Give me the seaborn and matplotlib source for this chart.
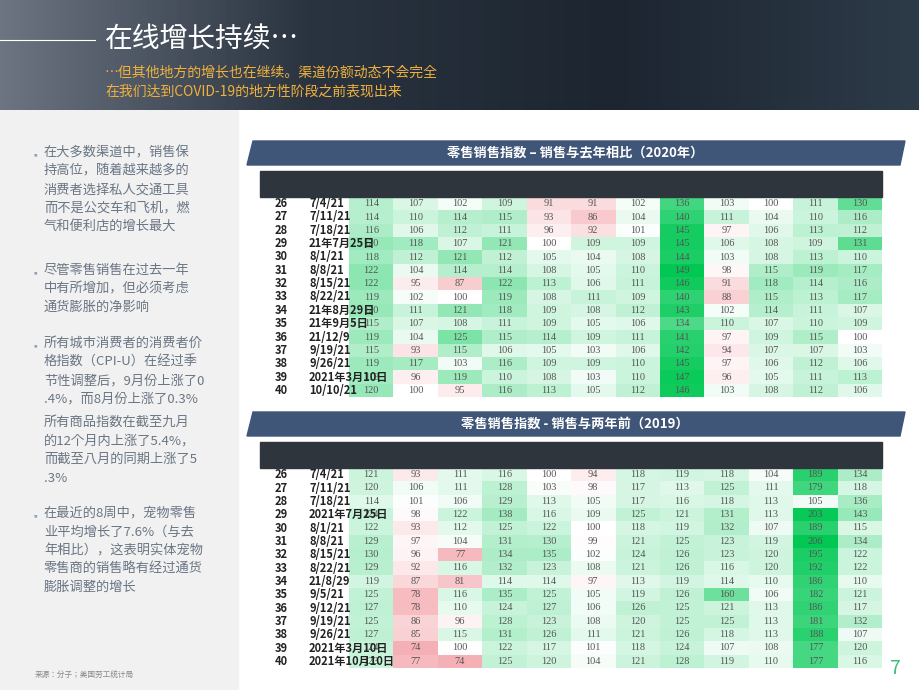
import numpy as np
import pandas as pd
import seaborn as sns
import matplotlib.pyplot as plt
from matplotlib.colors import LinearSegmentedColormap, TwoSlopeNorm
from matplotlib.patches import Rectangle, Polygon
from matplotlib import transforms

plt.rcParams['font.family'] = ['Noto Sans CJK JP', 'Noto Sans CJK SC', 'Noto Sans CJK TC', 'DejaVu Sans']

weeks = [26, 27, 28, 29, 30, 31, 32, 33, 34, 35, 36, 37, 38, 39, 40]

# 表1：与去年相比 (2020)
dates_1 = ['7/4/21', '7/11/21', '7/18/21', '21年7月25日', '8/1/21', '8/8/21', '8/15/21', '8/22/21',
           '21年8月29日', '21年9月5日', '21/12/9', '9/19/21', '9/26/21', '2021年3月10日', '10/10/21']
cols_1 = ['总计', '美丽', '杂货店', '俱乐部', '美元', '药物', '食物', '燃气与\n便利店', '酒类', '大规模', '在线', '宠物']
total_1 = [114, 114, 116, 120, 118, 122, 122, 119, 120, 115, 119, 115, 119, 118, 120]
beauty_1 = [107, 110, 106, 118, 112, 104, 95, 102, 111, 107, 104, 93, 117, 96, 100]
grocery_1 = [102, 114, 112, 107, 121, 114, 87, 100, 121, 108, 125, 115, 103, 119, 95]
club_1 = [109, 115, 111, 121, 112, 114, 122, 119, 118, 111, 115, 106, 116, 110, 116]
dollar_1 = [91, 93, 96, 100, 105, 108, 113, 108, 109, 109, 114, 105, 109, 108, 113]
drug_1 = [91, 86, 92, 109, 104, 105, 106, 111, 108, 105, 109, 103, 109, 103, 105]
food_1 = [102, 104, 101, 109, 108, 110, 111, 109, 112, 106, 111, 106, 110, 110, 112]
gas_1 = [136, 140, 145, 145, 144, 149, 146, 140, 143, 134, 141, 142, 145, 147, 146]
liquor_1 = [103, 111, 97, 106, 103, 98, 91, 88, 102, 110, 97, 94, 97, 96, 103]
mass_1 = [100, 104, 106, 108, 108, 115, 118, 115, 114, 107, 109, 107, 106, 105, 108]
online_1 = [111, 110, 113, 109, 113, 119, 114, 113, 111, 110, 115, 107, 112, 111, 112]
pet_1 = [130, 116, 112, 131, 110, 117, 116, 117, 107, 109, 100, 103, 106, 113, 106]

# 表2：与两年前相比 (2019)
dates_2 = ['7/4/21', '7/11/21', '7/18/21', '2021年7月25日', '8/1/21', '8/8/21', '8/15/21', '8/22/21',
           '21/8/29', '9/5/21', '9/12/21', '9/19/21', '9/26/21', '2021年3月10日', '2021年10月10日']
cols_2 = ['总计', '美丽', '杂货店', '俱乐部', '美元', '药物', '食品', '汽油和\n便利店', '酒类', '大规模', '在线', '宠物']
total_2 = [121, 120, 114, 124, 122, 129, 130, 129, 119, 125, 127, 125, 127, 124, 123]
beauty_2 = [93, 106, 101, 98, 93, 97, 96, 92, 87, 78, 78, 86, 85, 74, 77]
grocery_2 = [111, 111, 106, 122, 112, 104, 77, 116, 81, 116, 110, 96, 115, 100, 74]
club_2 = [116, 128, 129, 138, 125, 131, 134, 132, 114, 135, 124, 128, 131, 122, 125]
dollar_2 = [100, 103, 113, 116, 122, 130, 135, 123, 114, 125, 127, 123, 126, 117, 120]
drug_2 = [94, 98, 105, 109, 100, 99, 102, 108, 97, 105, 106, 108, 111, 101, 104]
food_2 = [118, 117, 117, 125, 118, 121, 124, 121, 113, 119, 126, 120, 121, 118, 121]
gas_2 = [119, 113, 116, 121, 119, 125, 126, 126, 119, 126, 125, 125, 126, 124, 128]
liquor_2 = [118, 125, 118, 131, 132, 123, 123, 116, 114, 160, 121, 125, 118, 107, 119]
mass_2 = [104, 111, 113, 113, 107, 119, 120, 120, 110, 106, 113, 113, 113, 108, 110]
online_2 = [189, 179, 105, 203, 189, 206, 195, 192, 186, 182, 186, 181, 188, 177, 177]
pet_2 = [134, 118, 136, 143, 115, 134, 122, 122, 110, 121, 117, 132, 107, 120, 116]

df1 = pd.DataFrame(np.array([total_1, beauty_1, grocery_1, club_1, dollar_1, drug_1, food_1,
                             gas_1, liquor_1, mass_1, online_1, pet_1]).T, columns=cols_1)
df2 = pd.DataFrame(np.array([total_2, beauty_2, grocery_2, club_2, dollar_2, drug_2, food_2,
                             gas_2, liquor_2, mass_2, online_2, pet_2]).T, columns=cols_2)

W, H = 920, 690
fig = plt.figure(figsize=(9.2, 6.9), dpi=100)
fig.patch.set_facecolor('white')


def box(x0, y0, x1, y1):
    return [x0 / W, 1 - y1 / H, (x1 - x0) / W, (y1 - y0) / H]


def fx(x):
    return x / W


def fy(y):
    return 1 - y / H


# 顶部深色背景
bg = fig.add_axes(box(0, 0, 920, 110))
grad = np.linspace(0, 1, 200)[None, :]
bg.imshow(grad, aspect='auto', cmap=LinearSegmentedColormap.from_list('bg', ['#6b7480', '#2a3440', '#1c2530', '#2d3a48']))
bg.axis('off')
fig.add_artist(Rectangle((0, fy(690)), fx(238), fy(110) - fy(690), transform=fig.transFigure,
                         color='#f1f1f1', zorder=0))
fig.add_artist(plt.Line2D([0, fx(95)], [fy(40), fy(40)], transform=fig.transFigure, color='white', lw=0.8))
fig.text(fx(105), fy(40), '在线增长持续…', color='white', fontsize=20, va='center')
fig.text(fx(105), fy(73), '…但其他地方的增长也在继续。渠道份额动态不会完全', color='#f0b13e', fontsize=10, va='center')
fig.text(fx(105), fy(92), '在我们达到COVID-19的地方性阶段之前表现出来', color='#f0b13e', fontsize=10, va='center')

# 左侧要点
bullets = [
    (155, True, '在大多数渠道中，销售保\n持高位，随着越来越多的\n消费者选择私人交通工具\n而不是公交车和飞机，燃\n气和便利店的增长最大'),
    (273, True, '尽管零售销售在过去一年\n中有所增加，但必须考虑\n通货膨胀的净影响'),
    (346, True, '所有城市消费者的消费者价\n格指数（CPI-U）在经过季\n节性调整后，9月份上涨了0\n.4%，而8月份上涨了0.3%'),
    (425, False, '所有商品指数在截至九月\n的12个月内上涨了5.4%，\n而截至八月的同期上涨了5\n.3%'),
    (516, True, '在最近的8周中，宠物零售\n业平均增长了7.6%（与去\n年相比），这表明实体宠物\n零售商的销售略有经过通货\n膨胀调整的增长'),
]
for y, has_b, txt in bullets:
    if has_b:
        fig.text(fx(30), fy(y), '▪', color='#8fa0b0', fontsize=7, va='center')
    fig.text(fx(44), fy(y - 9), txt, color='#6a7684', fontsize=9.5, va='top', linespacing=1.55)
fig.text(fx(35), fy(676), '来源：分子；美国劳工统计局', color='#888888', fontsize=5.5, va='center')
fig.text(fx(890), fy(668), '7', color='#3cbf7a', fontsize=14, va='center')

cmap = LinearSegmentedColormap.from_list('rg', ['#f08c94', '#ffffff', '#00c853'])


def draw_table(df, dates, top, title, vmin):
    # 标题横幅
    by0, by1 = top - 30, top - 6
    fig.add_artist(Polygon([(fx(247), fy(by1)), (fx(253), fy(by0)), (fx(905), fy(by0)), (fx(900), fy(by1))],
                           closed=True, transform=fig.transFigure, color='#3f5679'))
    fig.text(fx(575), fy((by0 + by1) / 2), title, color='white', fontsize=9.5, fontweight='bold',
             ha='center', va='center')
    # 表头
    hy1 = top + 26
    fig.add_artist(Rectangle((fx(260), fy(hy1)), fx(882 - 260), fy(top) - fy(hy1),
                             transform=fig.transFigure, color='#2f353d'))
    ax = fig.add_axes(box(349, hy1, 882, hy1 + 200))
    norm = TwoSlopeNorm(vmin=vmin, vcenter=100, vmax=df.values.max())
    sns.heatmap(df, ax=ax, cmap=cmap, norm=norm, cbar=False, annot=True, fmt='d',
                annot_kws={'fontsize': 7.5, 'color': '#555555', 'family': 'Liberation Serif'},
                xticklabels=False, yticklabels=False)
    ax.set_xlabel('')
    ax.set_ylabel('')
    tr = transforms.blended_transform_factory(ax.transData, ax.transAxes)
    hmid = 1 + 13 / 200
    for j, c in enumerate(df.columns):
        ax.text(j + 0.5, hmid, c, transform=tr, color='white', fontsize=8, ha='center', va='center',
                linespacing=1.2, clip_on=False)
    ax.text(-1.5, hmid, '周。' if top < 300 else '周.', transform=tr, color='white', fontsize=8,
            ha='center', va='center', clip_on=False)
    ax.text(-0.7, hmid, '截至\n周末' if top < 300 else '截至\n周', transform=tr, color='white',
            fontsize=7, ha='center', va='center', linespacing=1.2, clip_on=False)
    for i, (w, d) in enumerate(zip(weeks, dates)):
        ax.text(-1.53, i + 0.5, str(w), color='#222222', fontsize=8, fontweight='bold',
                ha='center', va='center', clip_on=False)
        ax.text(-0.9, i + 0.5, d, color='#222222', fontsize=8, fontweight='bold',
                ha='left', va='center', clip_on=False, zorder=5)
    return ax


draw_table(df1, dates_1, 171, '零售销售指数 – 销售与去年相比（2020年）', 70)
draw_table(df2, dates_2, 442, '零售销售指数 - 销售与两年前（2019）', 62)

fig.savefig('out.png', dpi=100)
